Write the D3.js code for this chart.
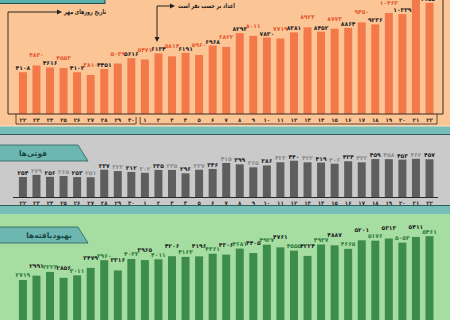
<!DOCTYPE html>
<html>
<head>
<meta charset="utf-8">
<script src="https://cdn.jsdelivr.net/npm/d3@7"></script>
<style>
  body { margin: 0; background: #fff; }
  svg { display: block; font-family: "DejaVu Sans", sans-serif; }
</style>
</head>
<body>
<script>
'use strict';

// days: last 9 days of Shahrivar, then 22 days of Mehr
const days = [22, 23, 24, 25, 26, 27, 28, 29, 30, 1, 2, 3, 4, 5, 6, 7, 8, 9, 10, 11, 12, 13, 14, 15, 16, 17, 18, 19, 20, 21, 22];
const cases = [4108, 4830, 4616, 4553, 4103, 3810, 4451, 5039, 5616, 5471, 6134, 5814, 6191, 5960, 6968, 6822,
  8293, 8011, 7830, 7719, 8381, 8923, 8452, 8773, 8864, 9450, 9236, 10463, 10339, 12050, 11550];
const deaths = [254, 279, 256, 265, 253, 251, 337, 322, 312, 302, 335, 335, 296, 337, 346, 415,
  399, 365, 386, 423, 440, 422, 419, 406, 434, 422, 459, 458, 453, 462, 457];
const recovered = [2719, 2991, 3223, 2856, 3011, 3479, 3960, 3316, 4033, 3965, 4011, 4206, 4163, 4196, 4361, 4306,
  4681, 4405, 4927, 4761, 4555, 4224, 4937, 4887, 4665, 5201, 5176, 5313, 5053, 5411, 5461];

const titleDeaths = "فوتی‌ها";
const titleRecovered = "بهبودیافته‌ها";
const noteDays = "تاریخ روزهای مهر";
const noteUnit = "اعداد بر حسب نفر است";

// persian digits
function fa(n) {
  return String(n).replace(/\d/g, (d) => "۰۱۲۳۴۵۶۷۸۹"[d]);
}

const svg = d3.select('body').append('svg')
  .attr('width', 450)
  .attr('height', 320);

// shared x scale for all three panels
const x = d3.scaleBand()
  .domain(d3.range(days.length))
  .range([16.2, 436.2])
  .paddingInner(0.41)
  .paddingOuter(0.2);
const bw = x.bandwidth();
const cx = (i) => x(i) + bw / 2;

// backgrounds
svg.append('rect').attr('x', 0).attr('y', 0).attr('width', 450).attr('height', 126).attr('fill', '#fcc596');
svg.append('rect').attr('x', 0).attr('y', 126).attr('width', 450).attr('height', 9).attr('fill', '#76beb8');
svg.append('line').attr('x1', 0).attr('x2', 450).attr('y1', 126).attr('y2', 126).attr('stroke', '#fde2c6');
svg.append('line').attr('x1', 0).attr('x2', 450).attr('y1', 134.5).attr('y2', 134.5).attr('stroke', '#2f5f5c');
svg.append('rect').attr('x', 0).attr('y', 135).attr('width', 450).attr('height', 71).attr('fill', '#cacaca');
svg.append('line').attr('x1', 0).attr('x2', 450).attr('y1', 205.5).attr('y2', 205.5).attr('stroke', '#2f5f5c');
svg.append('rect').attr('x', 0).attr('y', 206).attr('width', 450).attr('height', 8).attr('fill', '#76beb8');
svg.append('rect').attr('x', 0).attr('y', 214).attr('width', 450).attr('height', 106).attr('fill', '#a6dea2');

// top left header strip (cut off)
svg.append('rect').attr('x', -2).attr('y', -10).attr('width', 107).attr('height', 13.5)
  .attr('fill', '#5ab0aa').attr('stroke', '#1f4c4a');

// draw one panel of bars and labels
function drawBars(values, y, base, cfg) {
  const g = svg.append('g');
  g.selectAll('rect')
    .data(values)
    .enter()
    .append('rect')
      .attr('x', (d, i) => x(i))
      .attr('y', (d) => y(d))
      .attr('width', bw)
      .attr('height', (d) => base - y(d))
      .attr('fill', cfg.fill);

  g.selectAll('text')
    .data(values)
    .enter()
    .append('text')
      .attr('x', (d, i) => cx(i))
      .attr('y', (d, i) => y(d) - (i % 2 ? cfg.liftOdd : cfg.liftEven))
      .attr('text-anchor', 'middle')
      .style('font-size', '6px')
      .style('font-weight', 'bold')
      .attr('fill', (d, i) => i % 2 ? cfg.oddColor : cfg.evenColor)
      .text((d) => fa(d));
}

// day labels under a panel
function drawDays(yPos, color) {
  svg.append('g').selectAll('text')
    .data(days)
    .enter()
    .append('text')
      .attr('x', (d, i) => cx(i))
      .attr('y', yPos)
      .attr('text-anchor', 'middle')
      .style('font-size', '5.5px')
      .style('font-weight', 'bold')
      .attr('fill', color)
      .text((d) => fa(d));
}

// cases panel (orange)
const yCases = d3.scaleLinear().domain([-375, 11800]).range([114, 0.5]);
drawBars(cases, yCases, 114, {
  fill: '#f4794a', evenColor: '#1e1e1e', oddColor: '#e4572e', liftEven: 2, liftOdd: 8
});
drawDays(121.5, '#3b2415');

// frame lines, axis and bracket
const mid = (x(8) + bw + x(9)) / 2;
svg.append('path')
  .attr('d', 'M8,12V114H443V0')
  .attr('fill', 'none').attr('stroke', '#3a2a22').attr('stroke-width', 1);
svg.append('path')
  .attr('d', `M16,114V124H${mid - 2}V117M${mid + 2},117V124H437V114`)
  .attr('fill', 'none').attr('stroke', '#3a2a22').attr('stroke-width', 0.8);

// annotation: day note
svg.append('path').attr('d', 'M8,12H58').attr('stroke', '#222').attr('fill', 'none');
svg.append('path').attr('d', 'M57,9.5L62,12L57,14.5Z').attr('fill', '#222');
svg.append('text')
  .attr('x', 64).attr('y', 14.2)
  .attr('textLength', 42).attr('lengthAdjust', 'spacingAndGlyphs')
  .style('font-size', '6.5px').style('font-weight', 'bold')
  .attr('fill', '#1e1e1e')
  .text(noteDays);

// annotation: unit note
svg.append('path').attr('d', 'M157,38V6H171').attr('stroke', '#222').attr('fill', 'none');
svg.append('path').attr('d', 'M170,3.5L175,6L170,8.5Z').attr('fill', '#222');
svg.append('path').attr('d', 'M154.5,37L157,42L159.5,37Z').attr('fill', '#222');
svg.append('text')
  .attr('x', 178).attr('y', 8.2)
  .attr('textLength', 57).attr('lengthAdjust', 'spacingAndGlyphs')
  .style('font-size', '6.5px').style('font-weight', 'bold')
  .attr('fill', '#1e1e1e')
  .text(noteUnit);

// deaths panel (gray)
const yDeaths = d3.scaleLinear().domain([25, 500]).range([197, 155.5]);
drawBars(deaths, yDeaths, 197, {
  fill: '#5e5e5e', evenColor: '#1e1e1e', oddColor: '#8a8a8a', liftEven: 2, liftOdd: 2
});
svg.append('line').attr('x1', 13).attr('x2', 438).attr('y1', 197.5).attr('y2', 197.5)
  .attr('stroke', '#2a2a2a').attr('stroke-width', 1);
drawDays(204.5, '#2b2b2b');

// recovered panel (green)
const yRec = d3.scaleLinear().domain([0, 5500]).range([323.5, 235.5]);
drawBars(recovered, yRec, 323.5, {
  fill: '#3d8c4c', evenColor: '#2f7a3b', oddColor: '#1e1e1e', liftEven: 2.5, liftOdd: 8
});

// section headers
function header(y0, label, tx) {
  svg.append('path')
    .attr('d', `M-1,${y0}H78L88,${y0 + 16}H-1Z`)
    .attr('fill', '#6cb8b0').attr('stroke', '#2a5f5c').attr('stroke-width', 0.8);
  svg.append('text')
    .attr('x', tx).attr('y', y0 + 10.5)
    .attr('text-anchor', 'middle')
    .style('font-size', '7.5px').style('font-weight', 'bold')
    .attr('fill', '#1b4744')
    .text(label);
}
header(145, titleDeaths, 33);
header(227, titleRecovered, 49);
</script>
</body>
</html>
